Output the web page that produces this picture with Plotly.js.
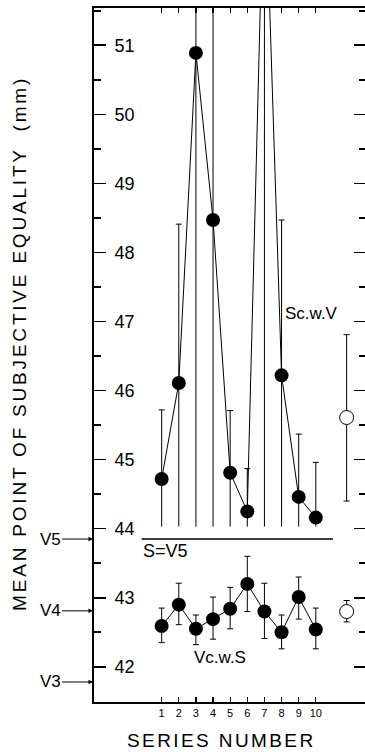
<!DOCTYPE html>
<html>
<head>
<meta charset="utf-8">
<script src="https://cdn.plot.ly/plotly-3.0.1.min.js"></script>
<style>
  html, body { margin: 0; padding: 0; background: #fff; overflow: hidden; }
  #chart { width: 367px; height: 752px; }
</style>
</head>
<body>
<div id="chart"></div>
<script>
// ---- data ----
const seriesNumbers = [1, 2, 3, 4, 5, 6, 7, 8, 9, 10];
const xTickLabels = ["1", "2", "3", "4", "5", "6", "7", "8", "9", "10"];

// S c.w. V (upper series)
const scwvMean  = [44.72, 46.11, 50.89, 48.47, 44.81, 44.25, 53.90, 46.22, 44.46, 44.16];
const scwvUpper = [45.72, 48.41, 57.00, 56.00, 45.71, 44.87, 60.00, 48.47, 45.37, 44.96];
const scwvBarFloor = 44.03;   // lower error bars are cut at the S=V5 separator

// V c.w. S (lower series)
const vcwsMean  = [42.59, 42.90, 42.55, 42.69, 42.84, 43.20, 42.80, 42.50, 43.01, 42.54];
const vcwsUpper = [42.85, 43.21, 42.75, 43.01, 43.15, 43.60, 43.21, 42.75, 43.30, 42.85];
const vcwsLower = [42.35, 42.61, 42.32, 42.40, 42.55, 42.80, 42.41, 42.26, 42.69, 42.26];

// overall means (open circles)
const overallX = [11.8];
const overallScwvMean = [45.61], overallScwvUpper = [46.81], overallScwvLower = [44.40];
const overallVcwsMean = [42.80], overallVcwsUpper = [42.96], overallVcwsLower = [42.65];

// reference levels
const refNames  = ["V5", "V4", "V3"];
const refLevels = [43.85, 42.81, 41.78];
const sEqualsV5Span = [-0.17, 11.0];

const yTickVals = [42, 43, 44, 45, 46, 47, 48, 49, 50, 51];

// ---- helpers ----
const sub = (a, b) => a.map((v, i) => v - b[i]);
const FONT = "Liberation Sans, Arial, Helvetica, sans-serif";

const traces = [
  // upper series: lower (uncapped) error segments
  {
    x: seriesNumbers, y: scwvMean, type: "scatter", mode: "markers",
    marker: { size: 1, color: "rgba(0,0,0,0)" }, hoverinfo: "skip",
    error_y: { type: "data", symmetric: false,
      array: scwvMean.map(() => 0),
      arrayminus: scwvMean.map(v => v - scwvBarFloor),
      width: 0, thickness: 1, color: "#000" }
  },
  // upper series: line, markers, capped upper bars
  {
    x: seriesNumbers, y: scwvMean, type: "scatter", mode: "lines+markers",
    line: { color: "#000", width: 1 },
    marker: { size: 14, color: "#000" },
    error_y: { type: "data", symmetric: false,
      array: sub(scwvUpper, scwvMean),
      arrayminus: scwvMean.map(() => 0),
      width: 3, thickness: 1, color: "#000" }
  },
  // lower series
  {
    x: seriesNumbers, y: vcwsMean, type: "scatter", mode: "lines+markers",
    line: { color: "#000", width: 1 },
    marker: { size: 14, color: "#000" },
    error_y: { type: "data", symmetric: false,
      array: sub(vcwsUpper, vcwsMean),
      arrayminus: sub(vcwsMean, vcwsLower),
      width: 3, thickness: 1, color: "#000" }
  },
  // overall means
  {
    x: overallX, y: overallScwvMean, type: "scatter", mode: "markers",
    marker: { size: 14, color: "#fff", line: { color: "#000", width: 1 } },
    error_y: { type: "data", symmetric: false,
      array: sub(overallScwvUpper, overallScwvMean),
      arrayminus: sub(overallScwvMean, overallScwvLower),
      width: 3, thickness: 1, color: "#000" }
  },
  {
    x: overallX, y: overallVcwsMean, type: "scatter", mode: "markers",
    marker: { size: 14, color: "#fff", line: { color: "#000", width: 1 } },
    error_y: { type: "data", symmetric: false,
      array: sub(overallVcwsUpper, overallVcwsMean),
      arrayminus: sub(overallVcwsMean, overallVcwsLower),
      width: 3, thickness: 1, color: "#000" }
  },
  // S = V5 separator line
  {
    x: sEqualsV5Span, y: [refLevels[0], refLevels[0]], type: "scatter", mode: "lines",
    line: { color: "#000", width: 1.5 }, hoverinfo: "skip"
  }
];

const annotations = [];
refNames.forEach((n, i) => {
  annotations.push({
    xref: "paper", x: 0, yref: "y", y: refLevels[i],
    text: n, showarrow: true, ax: -44, ay: 0,
    arrowhead: 2, arrowsize: 0.9, arrowwidth: 1, arrowcolor: "#000",
    standoff: 1,
    font: { family: FONT, size: 17, color: "#000" }
  });
});
annotations.push(
  { xref: "x", yref: "y", x: 9.72, y: 47.11, text: "Sc.w.V", showarrow: false,
    font: { family: FONT, size: 17, color: "#000" } },
  { xref: "x", yref: "y", x: 4.43, y: 42.14, text: "Vc.w.S", showarrow: false,
    font: { family: FONT, size: 17, color: "#000" } },
  { xref: "x", yref: "y", x: 1.25, y: 43.68, text: "S=V5", showarrow: false,
    font: { family: FONT, size: 18, color: "#000" } },
  { xref: "paper", yref: "paper", x: -0.272, y: 0.516, xanchor: "center", yanchor: "middle",
    textangle: -90,
    text: '<span style="letter-spacing:2.8px">MEAN POINT OF SUBJECTIVE EQUALITY  (mm)</span>',
    showarrow: false, font: { family: FONT, size: 19, color: "#000" } },
  { xref: "paper", yref: "paper", x: 0.469, y: -0.056, xanchor: "center", yanchor: "middle",
    text: '<span style="letter-spacing:2.4px">SERIES NUMBER</span>',
    showarrow: false, font: { family: FONT, size: 19, color: "#000" } }
);

const layout = {
  width: 367, height: 752,
  margin: { l: 94, r: 1, t: 8, b: 50 },
  paper_bgcolor: "#fff", plot_bgcolor: "#fff",
  showlegend: false,
  font: { family: FONT, color: "#000" },
  xaxis: {
    range: [-2.95, 12.93], tickmode: "array", tickvals: seriesNumbers, ticktext: xTickLabels,
    ticks: "inside", ticklen: 5, tickwidth: 1.2, tickcolor: "#000",
    showline: true, linewidth: 1.6, linecolor: "#000", mirror: "ticks",
    showgrid: false, zeroline: false,
    tickfont: { family: FONT, size: 11, color: "#000" }
  },
  yaxis: {
    range: [41.49, 51.54], tickmode: "array", tickvals: yTickVals,
    ticks: "inside", ticklen: 12, tickwidth: 1.6, tickcolor: "#000",
    ticklabelposition: "inside", ticklabelstandoff: 9,
    minor: { dtick: 0.5, ticks: "inside", ticklen: 7, tickwidth: 1.6, tickcolor: "#000", showgrid: false },
    showline: true, linewidth: 2, linecolor: "#000", mirror: "ticks",
    showgrid: false, zeroline: false,
    tickfont: { family: FONT, size: 18, color: "#000" }
  },
  annotations: annotations
};

Plotly.newPlot("chart", traces, layout, { staticPlot: true, displayModeBar: false });
</script>
</body>
</html>
